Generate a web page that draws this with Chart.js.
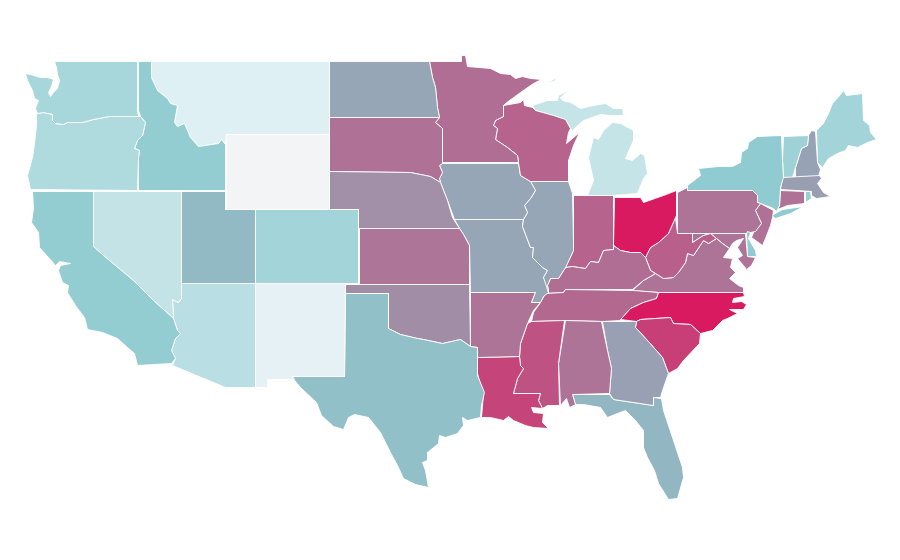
<!DOCTYPE html>
<html>
<head>
<meta charset="utf-8">
<title>US states</title>
<script src="https://cdn.jsdelivr.net/npm/chart.js@4"></script>
<style>
  html, body { margin: 0; padding: 0; background: #fff; }
  canvas { display: block; }
</style>
</head>
<body>
<canvas id="map" width="900" height="560"></canvas>
<script>
// state outlines, in map units
const washington = [[54,61],[137,61],[137,110],[138,116],[109,116],[93,119],[82,122],[67,122],[63,124],[55,123],[52,120],[52,114],[43,112],[37,113],[35,108],[38,100],[34,98],[32,90],[27,80],[25,73],[30,74],[40,77],[47,77],[53,79],[51,86],[48,92],[50,96],[53,92],[57,88],[59,80],[57,74],[56,67]];
const oregon = [[36,113],[43,112],[52,114],[52,120],[55,123],[63,124],[67,122],[82,122],[93,119],[109,116],[140,116],[145,122],[142,135],[137,140],[134,148],[139,150],[138,157],[137,190],[30,189],[27,175],[32,157],[34,143],[36,125]];
const idaho = [[138,61],[151,61],[151,77],[157,90],[167,98],[170,103],[177,105],[174,122],[177,126],[184,123],[190,137],[198,146],[218,143],[221,139],[225,144],[225,190],[138,190],[138,157],[139,150],[134,148],[137,140],[142,135],[145,122],[140,116],[138,110]];
const montana = [[151,61],[329,61],[329,134],[226,134],[225,144],[221,139],[218,143],[198,146],[190,137],[184,123],[177,126],[174,122],[177,105],[170,103],[167,98],[157,90],[151,77]];
const wyoming = [[226,134],[329,134],[329,209],[226,209]];
const california = [[32,191],[93,191],[93,246],[103,255],[133,280],[153,300],[173,318],[177,330],[180,333],[175,338],[171,350],[175,358],[171,363],[137,365],[134,353],[127,347],[117,338],[102,332],[87,329],[84,317],[75,305],[67,292],[68,285],[62,282],[58,270],[60,265],[70,263],[59,261],[55,265],[48,257],[39,247],[38,232],[31,222],[33,208]];
const nevada = [[93,191],[181,191],[181,298],[178,302],[172,299],[173,315],[173,318],[153,300],[133,280],[103,255],[93,246]];
const utah = [[181,191],[225,191],[225,209],[255,209],[255,283],[181,283]];
const arizona = [[181,283],[255,283],[255,387],[225,387],[172,365],[175,358],[171,350],[175,338],[180,333],[177,330],[173,318],[173,315],[172,299],[178,302],[181,298]];
const colorado = [[255,209],[358,209],[358,283],[255,283]];
const newMexico = [[255,283],[345,283],[344,376],[292,376],[294,379],[267,379],[267,387],[255,387]];
const texas = [[345,293],[388,293],[388,328],[400,334],[417,338],[423,339],[442,343],[460,339],[470,346],[477,347],[477,375],[484,392],[481,405],[480,417],[467,420],[462,417],[463,425],[457,433],[445,437],[439,435],[438,443],[427,452],[427,460],[422,462],[425,470],[428,487],[415,484],[403,478],[397,465],[390,452],[380,432],[368,417],[354,414],[348,417],[343,429],[333,426],[321,415],[316,402],[300,387],[291,376],[344,376]];
const oklahoma = [[345,284],[469,284],[470,346],[460,339],[442,343],[423,339],[417,338],[400,334],[388,328],[388,293],[345,293]];
const kansas = [[359,228],[459,228],[463,234],[469,245],[469,284],[359,284]];
const nebraska = [[329,171],[410,172],[420,174],[430,176],[440,182],[447,200],[452,217],[459,228],[358,228],[358,209],[329,209]];
const southDakota = [[329,117],[439,117],[435,122],[442,128],[442,163],[439,165],[442,172],[439,178],[440,182],[430,176],[420,174],[410,172],[329,171]];
const northDakota = [[329,61],[429,61],[432,77],[435,87],[437,107],[439,117],[329,117]];
const minnesota = [[429,61],[461,61],[461,55],[465,55],[467,66],[490,68],[500,73],[510,74],[515,78],[522,76],[530,78],[541,79],[533,83],[520,92],[505,103],[503,105],[503,116],[495,120],[493,125],[497,128],[495,139],[507,147],[517,155],[518,162],[442,162],[442,128],[435,122],[439,117],[437,107],[435,87],[432,77]];
const wisconsin = [[503,105],[520,102],[523,99],[524,105],[532,107],[535,110],[553,115],[565,119],[570,128],[568,132],[566,143],[579,132],[573,145],[568,160],[568,181],[530,181],[520,175],[518,162],[517,155],[507,147],[495,139],[497,128],[493,125],[495,120],[503,116]];
const iowa = [[442,163],[518,163],[520,175],[530,181],[535,190],[530,198],[524,205],[527,212],[523,219],[454,219],[447,200],[440,182],[439,178],[442,172],[439,165]];
const illinois = [[530,181],[568,181],[572,193],[573,242],[573,250],[567,263],[565,267],[558,278],[550,278],[547,285],[548,292],[543,277],[547,270],[542,267],[535,260],[532,257],[533,247],[530,247],[522,226],[523,219],[527,212],[524,205],[530,198],[535,190]];
const missouri = [[454,219],[523,219],[522,226],[530,247],[533,247],[532,257],[535,260],[542,267],[547,270],[543,277],[547,285],[548,292],[543,296],[540,302],[531,302],[535,292],[470,292],[469,245],[463,234],[459,228]];
const arkansas = [[470,292],[535,292],[531,302],[540,302],[533,310],[527,323],[520,343],[519,356],[477,357],[477,347],[470,346]];
const louisiana = [[477,357],[519,356],[520,365],[523,368],[517,378],[513,393],[540,393],[538,400],[542,408],[531,407],[533,412],[543,413],[542,422],[548,428],[533,427],[525,425],[513,420],[508,416],[503,420],[490,417],[481,417],[483,393],[478,377],[477,373]];
const mississippi = [[531,321],[564,320],[558,363],[559,405],[547,405],[542,408],[538,400],[540,393],[513,393],[517,378],[523,368],[520,365],[519,356],[520,343],[527,323]];
const alabama = [[565,320],[601,321],[607,350],[611,368],[609,393],[572,394],[575,404],[569,407],[566,398],[560,405],[558,363]];
const georgia = [[602,321],[636,321],[635,327],[647,340],[662,357],[668,373],[662,390],[660,397],[653,397],[653,405],[613,399],[609,393],[611,368],[607,350]];
const florida = [[572,394],[609,394],[613,399],[653,405],[653,397],[661,398],[663,410],[672,437],[682,467],[683,477],[677,498],[668,499],[658,483],[654,470],[647,457],[643,447],[643,430],[635,420],[625,410],[617,413],[607,417],[600,407],[583,404],[575,404]];
const southCarolina = [[636,321],[640,319],[670,317],[673,323],[690,324],[700,333],[699,343],[683,360],[677,368],[668,373],[662,357],[647,340],[635,327]];
const northCarolina = [[658,292],[743,292],[744,296],[733,298],[732,302],[741,301],[746,304],[743,309],[729,309],[737,313],[727,318],[722,320],[712,330],[700,333],[690,324],[673,323],[670,317],[640,319],[636,321],[620,319],[622,317],[630,308],[643,302],[656,298]];
const tennessee = [[545,293],[563,292],[565,289],[633,290],[658,292],[656,298],[643,302],[630,308],[622,317],[620,320],[602,321],[565,320],[531,321],[533,312],[540,302]];
const kentucky = [[565,289],[632,289],[643,280],[655,273],[650,270],[645,257],[640,252],[630,252],[620,250],[613,245],[613,249],[603,250],[598,262],[590,261],[585,268],[578,267],[572,266],[565,267],[558,278],[550,278],[547,285],[548,292],[545,293],[563,292]];
const indiana = [[573,195],[613,195],[613,245],[613,249],[603,250],[598,262],[590,261],[585,268],[578,267],[572,266],[565,267],[573,250],[573,242]];
const ohio = [[614,197],[640,197],[643,202],[663,195],[676,190],[676,215],[675,217],[668,233],[658,242],[650,247],[645,257],[640,252],[630,252],[620,250],[613,245]];
const westVirginia = [[677,233],[692,233],[692,242],[703,235],[710,233],[716,238],[708,243],[703,240],[693,255],[687,253],[685,262],[678,272],[673,277],[663,278],[655,273],[650,270],[645,257],[650,247],[658,242],[668,233],[675,217]];
const virginia = [[632,290],[643,280],[655,273],[663,278],[673,277],[678,272],[685,262],[687,253],[693,255],[703,240],[708,243],[716,238],[722,243],[729,248],[723,257],[732,258],[730,267],[735,272],[729,278],[738,285],[743,287],[743,292],[658,292]];
const maryland = [[692,233],[745,233],[747,256],[755,257],[751,265],[746,269],[743,265],[737,258],[742,255],[737,247],[743,238],[736,240],[732,243],[729,248],[722,243],[716,238],[710,233],[703,235],[692,242]];
const delaware = [[746,233],[747,231],[750,232],[748,238],[755,250],[756,256],[747,256]];
const pennsylvania = [[677,192],[687,187],[687,190],[752,190],[757,195],[757,202],[760,203],[755,210],[761,223],[755,231],[745,233],[677,233]];
const newJersey = [[760,203],[773,210],[772,217],[770,225],[765,238],[762,245],[751,237],[753,232],[761,223],[755,210]];
const newYork = [[687,185],[700,175],[698,168],[718,166],[732,166],[740,162],[741,152],[747,148],[748,142],[757,136],[781,135],[782,160],[783,177],[780,187],[779,205],[776,211],[773,208],[760,203],[757,202],[757,195],[752,190],[687,190]];
const longIsland = [[771,215],[782,209],[803,206],[790,213],[775,218]];
const connecticut = [[780,190],[804,191],[804,203],[787,205],[777,209],[779,205]];
const rhodeIsland = [[805,191],[810,191],[811,198],[805,202]];
const massachusetts = [[782,177],[819,175],[821,178],[817,183],[823,192],[830,196],[823,197],[816,198],[811,195],[811,191],[780,189]];
const vermont = [[783,136],[808,135],[807,145],[801,148],[795,167],[792,177],[783,177],[782,160]];
const newHampshire = [[811,130],[815,131],[817,162],[820,169],[818,176],[795,177],[795,167],[801,148],[807,145],[808,135]];
const maine = [[816,130],[823,123],[828,113],[832,103],[840,94],[843,90],[846,95],[862,93],[863,120],[869,125],[870,132],[876,139],[867,142],[857,147],[848,145],[845,150],[837,153],[828,158],[822,167],[817,162]];
const michiganUpper = [[532,105],[547,100],[557,100],[558,95],[568,90],[560,97],[562,100],[570,102],[580,108],[593,105],[605,103],[613,108],[622,108],[623,115],[610,115],[600,114],[583,120],[572,130],[570,128],[565,119],[553,115],[535,110]];
const michiganLower = [[612,122],[620,123],[633,130],[633,140],[625,158],[632,160],[640,153],[644,155],[647,173],[643,178],[637,193],[613,195],[587,195],[593,180],[588,157],[593,137],[598,139],[603,130]];
const isleRoyale = [[548,82],[556,77],[554,81]];

const stateNames = ['Washington','Oregon','Idaho','Montana','Wyoming','California','Nevada','Utah','Arizona','Colorado','New Mexico','Texas','Oklahoma','Kansas','Nebraska','South Dakota','North Dakota','Minnesota','Wisconsin','Iowa','Illinois','Missouri','Arkansas','Louisiana','Mississippi','Alabama','Georgia','Florida','South Carolina','North Carolina','Tennessee','Kentucky','Indiana','Ohio','West Virginia','Virginia','Maryland','Delaware','Pennsylvania','New Jersey','New York','New York','Connecticut','Rhode Island','Massachusetts','Vermont','New Hampshire','Maine','Michigan','Michigan','Michigan'];
const stateValues = [24,22,29,10,0,29,17,39,19.5,25,7,36,59,67,58,69,50,70,74,50,50,50,68,85,80,68,52,41,87,100,72,70,74,100,75,68,68,30,68,69,30,30,69,28,53,26,51,25,16.5,16.5,16.5];
const stateShapes = [washington,oregon,idaho,montana,wyoming,california,nevada,utah,arizona,colorado,newMexico,texas,oklahoma,kansas,nebraska,southDakota,northDakota,minnesota,wisconsin,iowa,illinois,missouri,arkansas,louisiana,mississippi,alabama,georgia,florida,southCarolina,northCarolina,tennessee,kentucky,indiana,ohio,westVirginia,virginia,maryland,delaware,pennsylvania,newJersey,newYork,longIsland,connecticut,rhodeIsland,massachusetts,vermont,newHampshire,maine,michiganUpper,michiganLower,isleRoyale];

// colour ramp: light -> teal -> grey blue -> pink
const rampValues = [0, 10, 30, 50, 100];
const rampColors = [[243,244,246],[223,240,244],[143,203,208],[150,166,182],[217,26,96]];

function colorFor(value) {
    let i = 0;
    while (i < rampValues.length - 2 && value > rampValues[i + 1]) i++;
    const t = (value - rampValues[i]) / (rampValues[i + 1] - rampValues[i]);
    const rgb = rampColors[i].map((c, k) => Math.round(c + (rampColors[i + 1][k] - c) * t));
    return `rgb(${rgb.join(',')})`;
}

const datasets = stateShapes.map((shape, i) => ({
    label: stateNames[i],
    data: shape.concat([shape[0]]).map(p => ({ x: p[0], y: p[1] })),
    showLine: true,
    fill: 'shape',
    backgroundColor: colorFor(stateValues[i]),
    borderColor: '#ffffff',
    borderWidth: 0.9,
    borderJoinStyle: 'round',
    pointRadius: 0,
    tension: 0
}));

const chart = new Chart(document.getElementById('map').getContext('2d'), {
    type: 'scatter',
    data: { datasets: datasets },
    options: {
        responsive: false,
        animation: false,
        layout: { padding: 0 },
        plugins: { legend: { display: false }, title: { display: false } },
        scales: {
            // half unit offset so the straight borders land on whole pixels
            x: { type: 'linear', min: -0.5, max: 899.5, display: false },
            y: { type: 'linear', min: -0.5, max: 559.5, reverse: true, display: false }
        }
    }
});
</script>
</body>
</html>
